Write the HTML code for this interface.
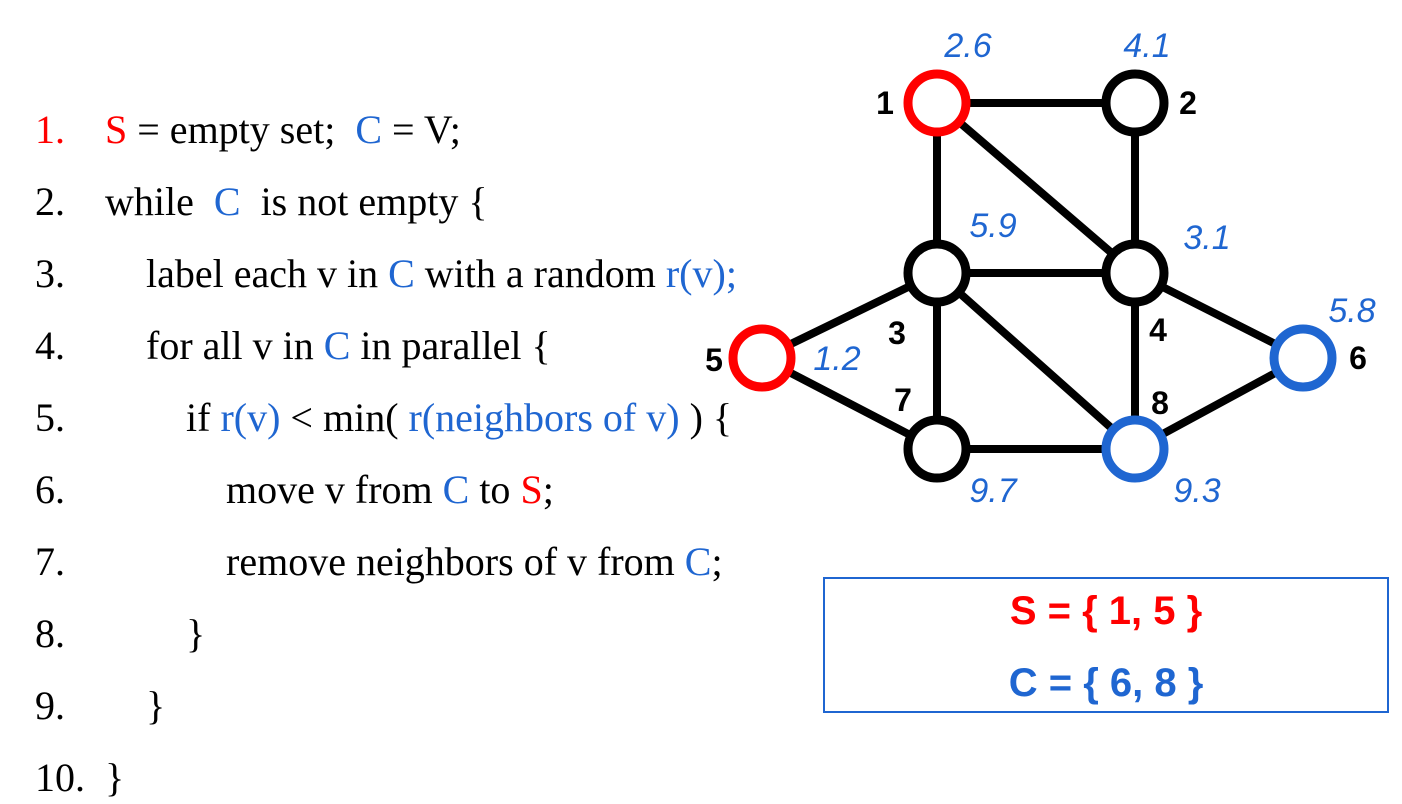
<!DOCTYPE html>
<html><head><meta charset="utf-8">
<style>
html,body{margin:0;padding:0;background:#fff;}
body{width:1402px;height:804px;position:relative;overflow:hidden;}
.code{position:absolute;font-family:"Liberation Serif",serif;font-size:40px;color:#000;white-space:pre;}
.r{color:#ff0000}.b{color:#1f66d1}
#box{position:absolute;left:823px;top:577px;width:562px;height:132px;border:2px solid #1f66d1;font-family:"Liberation Sans",sans-serif;font-weight:bold;font-size:40px;text-align:center;}
</style></head><body>
<div>
<div class="code" style="left:35px;top:106px"><span class="r">1.</span></div><div class="code" style="left:105px;top:106px"><span class="r">S</span> = empty set;  <span class="b">C</span> = V;</div>
<div class="code" style="left:35px;top:178px">2.</div><div class="code" style="left:105px;top:178px">while  <span class="b">C</span>  is not empty {</div>
<div class="code" style="left:35px;top:250px">3.</div><div class="code" style="left:146px;top:250px">label each v in <span class="b">C</span> with a random <span class="b">r(v);</span></div>
<div class="code" style="left:35px;top:322px">4.</div><div class="code" style="left:146px;top:322px">for all v in <span class="b">C</span> in parallel {</div>
<div class="code" style="left:35px;top:394px">5.</div><div class="code" style="left:186px;top:394px">if <span class="b">r(v)</span> &lt; min( <span class="b">r(neighbors of v)</span> ) {</div>
<div class="code" style="left:35px;top:466px">6.</div><div class="code" style="left:226px;top:466px">move v from <span class="b">C</span> to <span class="r">S</span>;</div>
<div class="code" style="left:35px;top:538px">7.</div><div class="code" style="left:226px;top:538px">remove neighbors of v from <span class="b">C</span>;</div>
<div class="code" style="left:35px;top:610px">8.</div><div class="code" style="left:186px;top:610px">}</div>
<div class="code" style="left:35px;top:682px">9.</div><div class="code" style="left:146px;top:682px">}</div>
<div class="code" style="left:35px;top:754px">10.</div><div class="code" style="left:105px;top:754px">}</div>
</div>
<svg id="g" width="1402" height="804" style="position:absolute;left:0;top:0"></svg>
<div id="box">
<div style="color:#ff0000;position:absolute;left:0;right:0;top:10px">S = { 1, 5 }</div>
<div style="color:#1f66d1;position:absolute;left:0;right:0;top:82px">C = { 6, 8 }</div>
</div>
<script>
const ids=[1,2,3,4,5,6,7,8];
const nx=[937,1135,937,1135,762,1303,937,1135];
const ny=[103,103,273,273,358,358,449,449];
const colors=["#ff0000","#000","#000","#000","#ff0000","#1f66d1","#000","#1f66d1"];
const vals=["2.6","4.1","5.9","3.1","1.2","5.8","9.7","9.3"];
const vx=[968,1147,993,1207,837,1352,993,1197];
const vy=[57,57,237,249,370,322,502,502];
const lx=[885,1188,897,1158,714,1358,903,1160];
const ly=[114,114,344,341,371,369,411,414];
const edges=[[1,2],[1,3],[1,4],[2,4],[3,4],[3,5],[3,7],[3,8],[4,8],[4,6],[5,7],[7,8],[8,6]];
const svg=document.getElementById('g');const NS="http://www.w3.org/2000/svg";
edges.forEach(e=>{const l=document.createElementNS(NS,'line');
l.setAttribute('x1',nx[e[0]-1]);l.setAttribute('y1',ny[e[0]-1]);l.setAttribute('x2',nx[e[1]-1]);l.setAttribute('y2',ny[e[1]-1]);
l.setAttribute('stroke','#000');l.setAttribute('stroke-width','8');


svg.appendChild(l);});
ids.forEach((id,i)=>{const c=document.createElementNS(NS,'circle');
c.setAttribute('cx',nx[i]);c.setAttribute('cy',ny[i]);c.setAttribute('r','29');c.setAttribute('fill','#fff');c.setAttribute('stroke',colors[i]);c.setAttribute('stroke-width','9');


svg.appendChild(c);
const t=document.createElementNS(NS,'text');t.setAttribute('x',lx[i]);t.setAttribute('y',ly[i]);t.setAttribute('text-anchor','middle');
t.setAttribute('font-family','Liberation Sans, sans-serif');t.setAttribute('font-weight','bold');t.setAttribute('font-size','32');t.textContent=id;


svg.appendChild(t);
const v=document.createElementNS(NS,'text');v.setAttribute('x',vx[i]);v.setAttribute('y',vy[i]);v.setAttribute('text-anchor','middle');
v.setAttribute('font-family','Liberation Sans, sans-serif');v.setAttribute('font-style','italic');v.setAttribute('font-size','34');v.setAttribute('fill','#1f66d1');v.textContent=vals[i];


svg.appendChild(v);});
</script>
</body></html>
